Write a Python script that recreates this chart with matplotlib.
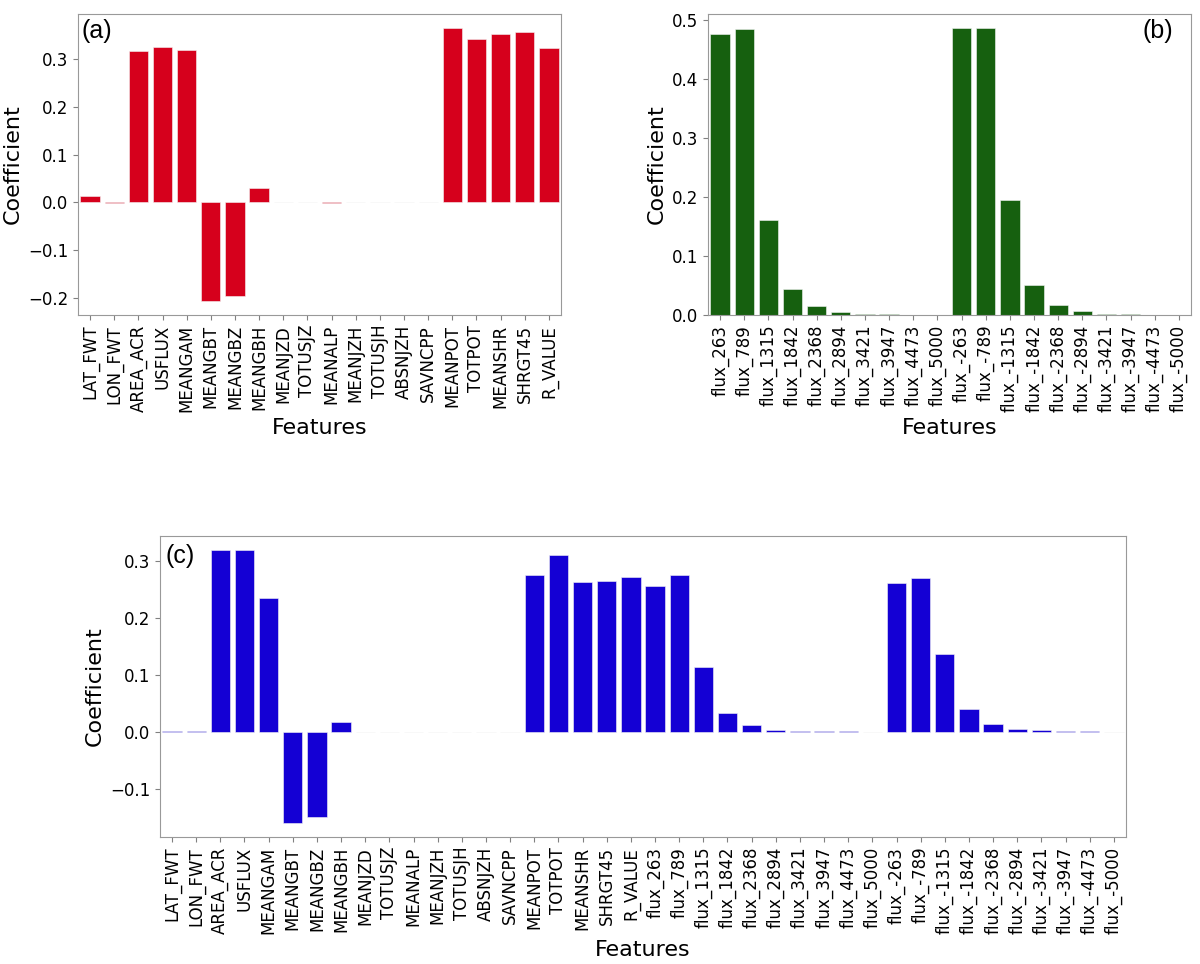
import numpy as np
from matplotlib import pyplot as plt

plt.rcParams["font.family"] = ["DejaVu Sans"]

# feature names
sharp_features = [
    "LAT_FWT", "LON_FWT", "AREA_ACR", "USFLUX", "MEANGAM", "MEANGBT",
    "MEANGBZ", "MEANGBH", "MEANJZD", "TOTUSJZ", "MEANALP", "MEANJZH",
    "TOTUSJH", "ABSNJZH", "SAVNCPP", "MEANPOT", "TOTPOT", "MEANSHR",
    "SHRGT45", "R_VALUE",
]
flux_features = [
    "flux_263", "flux_789", "flux_1315", "flux_1842", "flux_2368",
    "flux_2894", "flux_3421", "flux_3947", "flux_4473", "flux_5000",
    "flux_-263", "flux_-789", "flux_-1315", "flux_-1842", "flux_-2368",
    "flux_-2894", "flux_-3421", "flux_-3947", "flux_-4473", "flux_-5000",
]

# coefficients
coef_a = [
    0.013, -0.002, 0.318, 0.325, 0.320, -0.208,
    -0.196, 0.029, 0.0, 0.0, -0.002, 0.0,
    0.0, 0.0, 0.0, 0.366, 0.343, 0.352,
    0.357, 0.324,
]
coef_b = [
    0.475, 0.484, 0.160, 0.044, 0.016, 0.005, 0.002, 0.001, 0.0005, 0.0,
    0.485, 0.485, 0.195, 0.050, 0.017, 0.007, 0.002, 0.001, 0.0007, 0.0,
]
coef_c = [
    0.001, 0.001, 0.319, 0.318, 0.234, -0.161,
    -0.150, 0.016, 0.0, 0.0, -0.001, 0.0,
    0.0, 0.0, 0.0, 0.274, 0.309, 0.263,
    0.265, 0.271,
    0.255, 0.274, 0.113, 0.033, 0.012, 0.003, 0.0015, 0.0007, 0.0005, 0.0,
    0.261, 0.269, 0.136, 0.039, 0.014, 0.005, 0.002, 0.001, 0.0005, 0.0,
]
all_features = sharp_features + flux_features


def coef_bars(ax, names, values, color, tag, tag_x, tag_y, tag_ha):
    xs = np.arange(len(names))
    ax.bar(xs, values, width=0.8, color=color, edgecolor="#f4f4f4", linewidth=0.4)
    ax.set_xlim(-0.5, len(names) - 0.5)
    ax.set_xticks(xs)
    ax.set_xticklabels(names, rotation=90, fontsize=12)
    ax.tick_params(axis="y", labelsize=12)
    ax.tick_params(color="0.5")
    ax.set_xlabel("Features", fontsize=16)
    ax.set_ylabel("Coefficient", fontsize=16)
    for s in ax.spines.values():
        s.set_color("0.6")
    ax.text(tag_x, tag_y, tag, transform=ax.transAxes, fontsize=18,
            family="Liberation Sans", ha=tag_ha, va="top")


fig = plt.figure(figsize=(12, 9.64), dpi=100)
ax_a = fig.add_axes([0.065, 0.6732, 0.4025, 0.3122])
ax_b = fig.add_axes([0.59, 0.6732, 0.4025, 0.3122])
ax_c = fig.add_axes([0.1333, 0.1317, 0.805, 0.3122])

coef_bars(ax_a, sharp_features, coef_a, "#D6001C", "(a)", 0.008, 0.985, "left")
coef_bars(ax_b, flux_features, coef_b, "#16600F", "(b)", 0.962, 0.985, "right")
coef_bars(ax_c, all_features, coef_c, "#1400D4", "(c)", 0.006, 0.975, "left")

plt.savefig("out.png")
